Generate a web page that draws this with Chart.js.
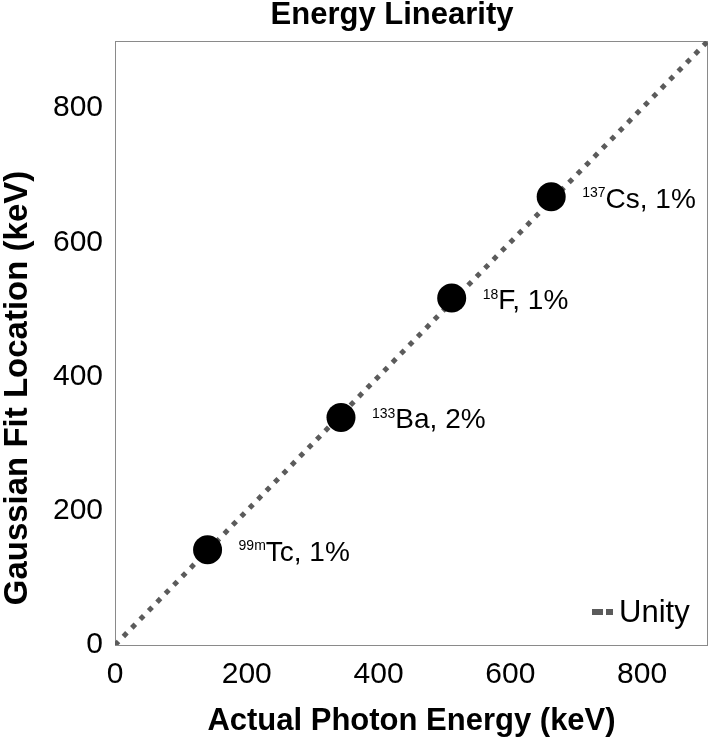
<!DOCTYPE html>
<html>
<head>
<meta charset="utf-8">
<script src="https://cdn.jsdelivr.net/npm/chart.js@4/dist/chart.umd.min.js"></script>
<style>
  html, body { margin: 0; padding: 0; background: #fff; }
  #wrap { width: 709px; height: 739px; }
</style>
</head>
<body>
<div id="wrap"><canvas id="c" width="709" height="739"></canvas></div>
<script>
// ---- data ----
const massNumbers   = ['99m', '133', '18', '137'];
const elements      = ['Tc', 'Ba', 'F', 'Cs'];
const uncertainties = ['1%', '2%', '1%', '1%'];
const actualEnergy  = [140.5, 343, 511, 662];   // keV
const fitLocation   = [142, 339, 517, 668];     // keV
const unityX = [0, 900];
const unityY = [0, 900];
const xTicks = [0, 200, 400, 600, 800];
const yTicks = [0, 200, 400, 600, 800];
const chartTitle = 'Energy Linearity';
const xTitle = 'Actual Photon Energy (keV)';
const yTitle = 'Gaussian Fit Location (keV)';
const unityLabel = 'Unity';

const FONT = '"Liberation Sans", Arial, Helvetica, sans-serif';
const LINE_COLOR = '#5b5b5b';

const pointData = actualEnergy.map((x, i) => ({ x: x, y: fitLocation[i] }));
const unityData = unityX.map((x, i) => ({ x: x, y: unityY[i] }));

const decorPlugin = {
  id: 'decor',
  beforeDatasetsDraw(chart) {
    const { ctx, chartArea: a } = chart;
    ctx.save();
    ctx.strokeStyle = '#8a8a8a';
    ctx.lineWidth = 1;
    ctx.strokeRect(a.left + 0.5, a.top + 0.5, a.right - a.left - 1, a.bottom - a.top);
    ctx.restore();
  },
  afterDatasetsDraw(chart) {
    const { ctx, chartArea: a } = chart;
    ctx.save();
    // point labels with superscript mass numbers
    const meta = chart.getDatasetMeta(0);
    meta.data.forEach((el, i) => {
      const px = el.x + 31;
      ctx.fillStyle = '#000';
      ctx.textAlign = 'left';
      ctx.textBaseline = 'alphabetic';
      ctx.font = '14px ' + FONT;
      ctx.fillText(massNumbers[i], px, el.y + 0.5);
      const w = ctx.measureText(massNumbers[i]).width;
      ctx.font = '28px ' + FONT;
      ctx.fillText(elements[i] + ', ' + uncertainties[i], px + w, el.y + 11);
    });
    // legend inside the plot, bottom right
    const lx = a.right - 116, ly = a.bottom - 33;
    ctx.strokeStyle = LINE_COLOR;
    ctx.lineWidth = 6;
    ctx.setLineDash([11, 3]);
    ctx.beginPath();
    ctx.moveTo(lx, ly);
    ctx.lineTo(lx + 21, ly);
    ctx.stroke();
    ctx.setLineDash([]);
    ctx.fillStyle = '#000';
    ctx.font = '31px ' + FONT;
    ctx.textBaseline = 'alphabetic';
    ctx.fillText(chart.data.datasets[1].label, lx + 27, ly + 10);
    ctx.restore();
  },
  afterDraw(chart) {
    const { ctx } = chart;
    ctx.save();
    ctx.fillStyle = '#000';
    // main title
    ctx.font = 'bold 31px ' + FONT;
    ctx.textAlign = 'center';
    ctx.textBaseline = 'alphabetic';
    ctx.fillText(chartTitle, 392, 24);
    // y axis title
    ctx.font = 'bold 33px ' + FONT;
    ctx.translate(27, 388);
    ctx.rotate(-Math.PI / 2);
    ctx.fillText(yTitle, 0, 0);
    ctx.restore();
  }
};

new Chart(document.getElementById('c'), {
  type: 'scatter',
  data: {
    datasets: [
      {
        label: 'Isotopes',
        data: pointData,
        backgroundColor: '#000',
        borderWidth: 0,
        pointRadius: 14.5,
        pointHoverRadius: 14.5
      },
      {
        label: unityLabel,
        type: 'line',
        data: unityData,
        showLine: true,
        borderColor: LINE_COLOR,
        borderWidth: 5,
        borderDash: [5, 7],
        borderCapStyle: 'butt',
        pointRadius: 0,
        fill: false
      }
    ]
  },
  options: {
    responsive: false,
    animation: false,
    devicePixelRatio: 1,
    layout: { autoPadding: false, padding: { top: 41, right: 1, left: 0, bottom: 0 } },
    plugins: {
      legend: { display: false },
      title: { display: false },
      tooltip: { enabled: false }
    },
    scales: {
      x: {
        type: 'linear',
        min: 0, max: 900,
        grid: { display: false, drawTicks: false },
        border: { display: false },
        afterBuildTicks(s) { s.ticks = xTicks.map(v => ({ value: v })); },
        afterFit(s) { s.height = 94; s.paddingLeft = 0; s.paddingRight = 0; },
        ticks: {
          color: '#000',
          padding: 15,
          maxRotation: 0,
          font: { family: FONT, size: 30, lineHeight: 1 }
        },
        title: {
          display: true,
          text: xTitle,
          color: '#000',
          padding: { top: 0, bottom: 0 },
          font: { family: FONT, size: 31, weight: 'bold', lineHeight: 1.1 }
        }
      },
      y: {
        type: 'linear',
        min: 0, max: 900,
        grid: { display: false, drawTicks: false },
        border: { display: false },
        afterBuildTicks(s) { s.ticks = yTicks.map(v => ({ value: v })); },
        afterFit(s) { s.width = 115; s.paddingTop = 0; s.paddingBottom = 0; },
        ticks: {
          color: '#000',
          padding: 12,
          font: { family: FONT, size: 30, lineHeight: 1 }
        }
      }
    }
  },
  plugins: [decorPlugin]
});
</script>
</body>
</html>
